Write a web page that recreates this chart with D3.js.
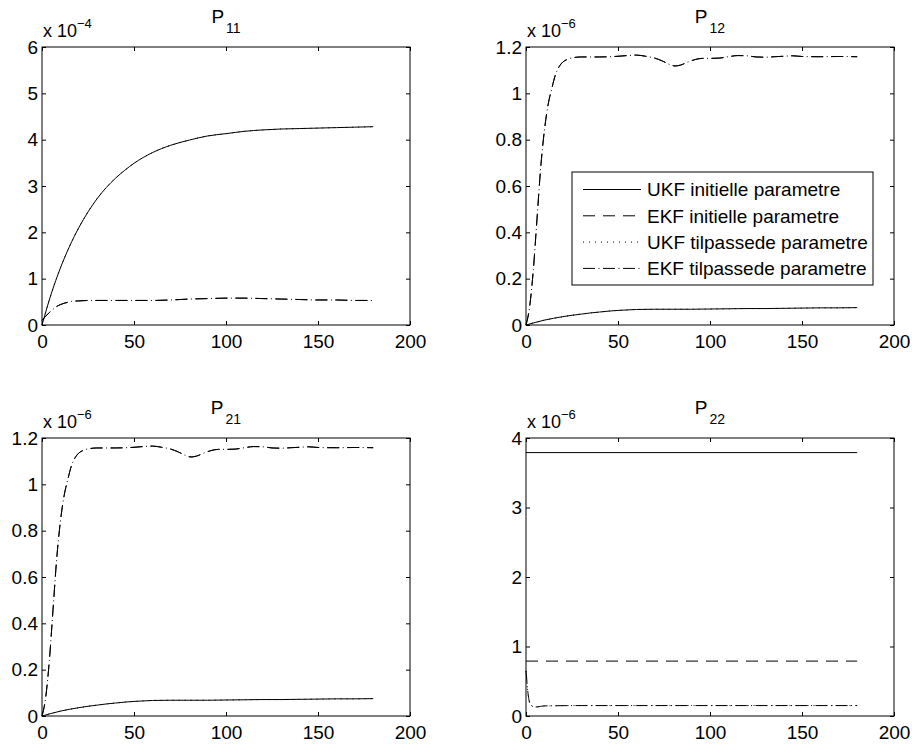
<!DOCTYPE html>
<html>
<head>
<meta charset="utf-8">
<script src="https://cdn.jsdelivr.net/npm/d3@7"></script>
<style>
  body { margin: 0; background: #fff; }
  svg { font-family: "Liberation Sans", Arial, Helvetica, sans-serif; }
  .tick text { font-size: 19px; fill: #000; }
  .tick line { stroke: #000; }
</style>
</head>
<body>
<div class="graph-container"></div>
<script>
// tick values
var xTicks = [0, 50, 100, 150, 200];
var p11Ticks = [0, 1, 2, 3, 4, 5, 6];
var p12Ticks = [0, 0.2, 0.4, 0.6, 0.8, 1, 1.2];
var p22Ticks = [0, 1, 2, 3, 4];

var legendLabels = ['UKF initielle parametre', 'EKF initielle parametre',
  'UKF tilpassede parametre', 'EKF tilpassede parametre'];

// P11 (x 10^-4)
var p11UkfX = [0, 5, 10, 15, 20, 25, 30, 35, 40, 45, 50, 60, 70, 80, 90, 100, 110, 120, 130, 140, 150, 160, 170, 180];
var p11UkfY = [0, 0.67, 1.23, 1.70, 2.10, 2.44, 2.73, 2.97, 3.17, 3.34, 3.49, 3.72, 3.88, 3.99, 4.08, 4.13, 4.18, 4.21, 4.23, 4.24, 4.25, 4.26, 4.27, 4.28];
var p11EkfX = [0, 2, 4, 6, 8, 10, 12, 14, 16, 20, 25, 30, 40, 50, 60, 70, 80, 90, 100, 110, 120, 130, 140, 150, 160, 170, 180];
var p11EkfY = [0.10, 0.19, 0.27, 0.34, 0.40, 0.44, 0.47, 0.49, 0.51, 0.52, 0.53, 0.53, 0.53, 0.53, 0.53, 0.54, 0.56, 0.57, 0.58, 0.58, 0.57, 0.56, 0.55, 0.54, 0.54, 0.53, 0.53];

// P12 / P21 (x 10^-6)
var p12UkfX = [0, 5, 10, 15, 20, 25, 30, 35, 40, 45, 50, 55, 60, 70, 80, 90, 100, 110, 120, 130, 140, 150, 160, 170, 180];
var p12UkfY = [0, 0.011, 0.021, 0.029, 0.036, 0.042, 0.047, 0.052, 0.056, 0.060, 0.063, 0.065, 0.067, 0.068, 0.068, 0.068, 0.069, 0.070, 0.071, 0.071, 0.072, 0.073, 0.074, 0.074, 0.075];
var p12EkfX = [0, 2, 4, 6, 8, 10, 12, 14, 16, 18, 20, 22, 25, 30, 40, 50, 55, 60, 65, 70, 74, 78, 81, 84, 88, 92, 96, 100, 105, 110, 115, 120, 125, 130, 135, 140, 145, 150, 160, 170, 180];
var p12EkfY = [0, 0.08, 0.24, 0.46, 0.68, 0.84, 0.95, 1.02, 1.08, 1.115, 1.135, 1.145, 1.153, 1.157, 1.157, 1.160, 1.163, 1.165, 1.160, 1.152, 1.140, 1.125, 1.118, 1.122, 1.135, 1.146, 1.151, 1.151, 1.152, 1.158, 1.163, 1.162, 1.157, 1.156, 1.158, 1.160, 1.162, 1.159, 1.158, 1.159, 1.158];

// P22 (x 10^-6)
var p22UkfInitX = [0, 180];
var p22UkfInitY = [3.79, 3.79];
var p22EkfInitX = [0, 180];
var p22EkfInitY = [0.79, 0.79];
var p22TilpX = [0, 0.5, 1, 1.5, 2, 3, 4, 6, 8, 10, 30, 60, 90, 120, 150, 180];
var p22TilpY = [0.65, 0.50, 0.35, 0.25, 0.19, 0.15, 0.135, 0.13, 0.14, 0.145, 0.15, 0.15, 0.15, 0.15, 0.15, 0.15];

// line styles: solid, dashed, dotted, dash-dot (dashed and dash-dot share a period)
var dashes = [null, '12,8', '1,5', '12,3.5,1,3.5'];

function pts(xs, ys) {
  return xs.map(function(x, i) { return [x, ys[i]]; });
}

var panels = [
  { left: 42, top: 47, sub: '11', exp: '\u22124', yMax: 6, yTicks: p11Ticks,
    series: [pts(p11UkfX, p11UkfY), pts(p11EkfX, p11EkfY), pts(p11UkfX, p11UkfY), pts(p11EkfX, p11EkfY)] },
  { left: 526, top: 47, sub: '12', exp: '\u22126', yMax: 1.2, yTicks: p12Ticks, legend: true,
    series: [pts(p12UkfX, p12UkfY), pts(p12EkfX, p12EkfY), pts(p12UkfX, p12UkfY), pts(p12EkfX, p12EkfY)] },
  { left: 42, top: 438, sub: '21', exp: '\u22126', yMax: 1.2, yTicks: p12Ticks,
    series: [pts(p12UkfX, p12UkfY), pts(p12EkfX, p12EkfY), pts(p12UkfX, p12UkfY), pts(p12EkfX, p12EkfY)] },
  { left: 526, top: 438, sub: '22', exp: '\u22126', yMax: 4, yTicks: p22Ticks,
    series: [pts(p22UkfInitX, p22UkfInitY), pts(p22EkfInitX, p22EkfInitY), pts(p22TilpX, p22TilpY), pts(p22TilpX, p22TilpY)] }
];

var plotWidth = 368;
var plotHeight = 278;
var tickLen = 4;

var svg = d3.select('.graph-container').append('svg')
  .attr('width', 912)
  .attr('height', 744);

function fmt(d) { return String(+d.toFixed(1)); }

panels.forEach(function(p) {
  var g = svg.append('g').attr('transform', 'translate(' + p.left + ',' + p.top + ')');

  var xScale = d3.scaleLinear().domain([0, 200]).range([0, plotWidth]);
  var yScale = d3.scaleLinear().domain([0, p.yMax]).range([plotHeight, 0]);

  // white axes background
  g.append('rect')
    .attr('width', plotWidth).attr('height', plotHeight)
    .attr('fill', '#fff');

  // axes with inward ticks on all four sides
  g.append('g').attr('transform', 'translate(0,' + plotHeight + ')')
    .call(d3.axisBottom(xScale).tickValues(xTicks).tickSize(-tickLen).tickSizeOuter(0).tickPadding(9.5).tickFormat(fmt))
    .call(function(a) { a.select('.domain').remove(); });
  g.append('g')
    .call(d3.axisTop(xScale).tickValues(xTicks).tickSize(-tickLen).tickSizeOuter(0).tickFormat(''))
    .call(function(a) { a.select('.domain').remove(); });
  g.append('g')
    .call(d3.axisLeft(yScale).tickValues(p.yTicks).tickSize(-tickLen).tickSizeOuter(0).tickPadding(4).tickFormat(fmt))
    .call(function(a) { a.select('.domain').remove(); });
  g.append('g').attr('transform', 'translate(' + plotWidth + ',0)')
    .call(d3.axisRight(yScale).tickValues(p.yTicks).tickSize(-tickLen).tickSizeOuter(0).tickFormat(''))
    .call(function(a) { a.select('.domain').remove(); });

  g.selectAll('.tick text').attr('font-family', null).attr('font-size', null);

  var line = d3.line()
    .x(function(d) { return xScale(d[0]); })
    .y(function(d) { return yScale(d[1]); })
    .curve(d3.curveMonotoneX);

  p.series.forEach(function(s, i) {
    g.append('path')
      .attr('d', line(s))
      .attr('fill', 'none')
      .attr('stroke', '#000')
      .attr('stroke-width', 1)
      .attr('stroke-dasharray', dashes[i]);
  });

  // box
  g.append('rect')
    .attr('width', plotWidth).attr('height', plotHeight)
    .attr('fill', 'none').attr('stroke', '#000').attr('stroke-width', 1);

  // title P_ij
  var title = g.append('text')
    .attr('x', plotWidth / 2)
    .attr('y', -24)
    .style('text-anchor', 'middle')
    .style('font-size', '19px');
  title.append('tspan').text('P');
  title.append('tspan').attr('dx', 2).attr('dy', 10).style('font-size', '14px').text(p.sub);

  // exponent label
  var expLabel = g.append('text')
    .attr('x', 1)
    .attr('y', -10.5)
    .style('font-size', '18px');
  expLabel.append('tspan').text('x 10');
  expLabel.append('tspan').attr('dy', -9).style('font-size', '13px').text(p.exp);

  if (p.legend) {
    var lg = svg.append('g').attr('transform', 'translate(572,172)');
    lg.append('rect')
      .attr('width', 301).attr('height', 113)
      .attr('fill', '#fff').attr('stroke', '#000').attr('stroke-width', 1);
    legendLabels.forEach(function(lbl, i) {
      var cy = 17.5 + i * 26.3;
      lg.append('line')
        .attr('x1', 11).attr('x2', 69)
        .attr('y1', cy).attr('y2', cy)
        .attr('stroke', '#000').attr('stroke-width', 1)
        .attr('stroke-dasharray', dashes[i]);
      lg.append('text')
        .attr('x', 75).attr('y', cy + 6.8)
        .style('font-size', '19px')
        .text(lbl);
    });
  }
});
</script>
</body>
</html>
